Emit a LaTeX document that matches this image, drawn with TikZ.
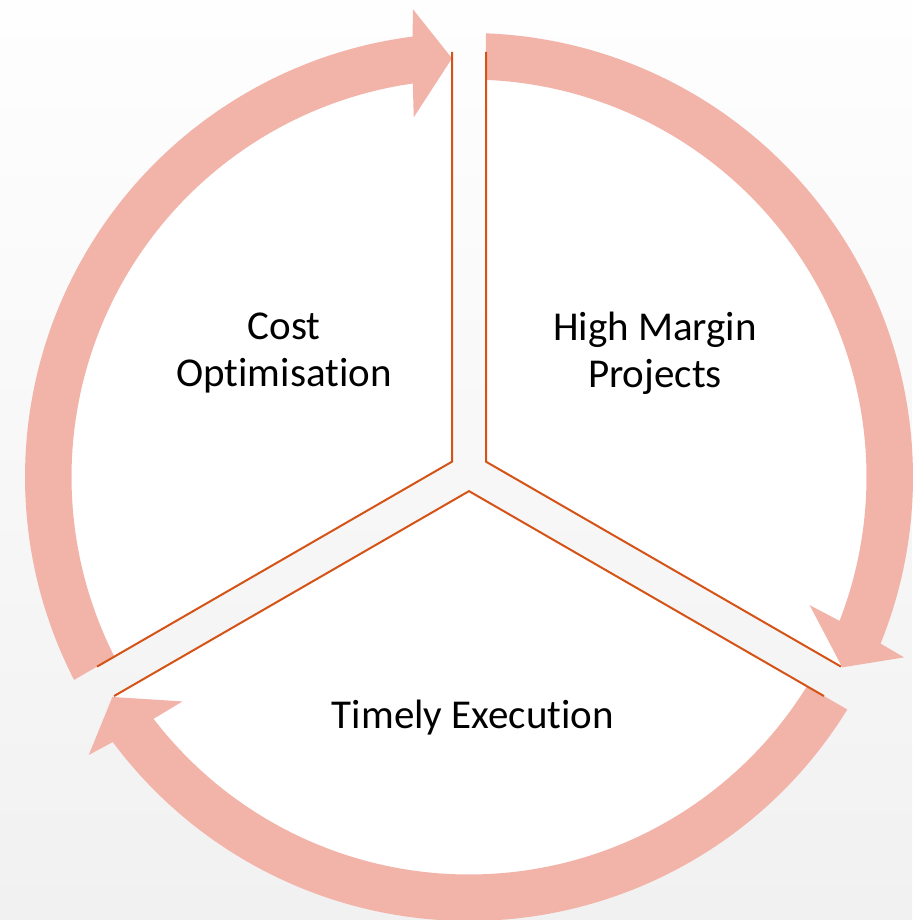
\documentclass[tikz,border=0pt]{standalone}
\usepackage{fontspec}
\setmainfont{Carlito}[Ligatures=NoCommon]
\usetikzlibrary{calc}
\definecolor{ringpink}{RGB}{242,179,169}
\definecolor{edgeorange}{RGB}{213,83,22}
\definecolor{bgtop}{RGB}{254,254,254}
\definecolor{bgbot}{RGB}{241,241,241}
% #1 tail angle (outer), #2 tail angle (inner), #3 tip angle
\newcommand\drawcyclearrow[3]{%
  \fill[cyclearrow] ($(O)+(#1:444)$) arc[start angle=#1, end angle=#3+4.98, radius=444]
    -- ($(O)+(#3+4.5:471)$) -- ($(O)+(#3:419)$) -- ($(O)+(#3+6.4:364)$)
    -- ($(O)+(#3+5.8:397.5)$) arc[start angle=#3+5.8, end angle=#2, radius=397.5] -- cycle;}
\begin{document}
\begin{tikzpicture}[x=1pt,y=1pt,
  sectorfill/.style={fill=white},
  sectoredge/.style={draw=edgeorange, line width=2pt, line join=miter},
  cyclearrow/.style={fill=ringpink},
  celltext/.style={font=\fontsize{41}{47}\selectfont, align=center, inner sep=0pt, text=black}]
\useasboundingbox (0,0) rectangle (912,920);
\shade[top color=bgtop, bottom color=bgbot] (0,0) rectangle (912,920);
\coordinate (O) at (469,443);
\coordinate (S) at (469,448.5);
% corners of the three segments
\coordinate (cl) at ($(S)+(150:19.63)$);
\coordinate (cr) at ($(S)+(30:19.63)$);
\coordinate (cb) at ($(S)+(270:19.63)$);
% segments
\fill[sectorfill] (cl) -- ($(S)+(92.32:420)$) arc[start angle=92.32, end angle=207.68, radius=420] -- cycle;
\fill[sectorfill] (cr) -- ($(S)+(-27.68:420)$) arc[start angle=-27.68, end angle=87.68, radius=420] -- cycle;
\fill[sectorfill] (cb) -- ($(S)+(212.32:420)$) arc[start angle=212.32, end angle=327.68, radius=420] -- cycle;
% cycle arrows
\drawcyclearrow{207.19}{206.86}{92.33}
\drawcyclearrow{87.81}{87.55}{-27.02}
\drawcyclearrow{-31.58}{-31.76}{-148.33}
% segment edges
\draw[sectoredge] ($(S)+(207.68:420)$) -- (cl) -- ($(S)+(92.32:420)$);
\draw[sectoredge] ($(S)+(87.68:420)$) -- (cr) -- ($(S)+(-27.68:420)$);
\draw[sectoredge] ($(S)+(327.68:420)$) -- (cb) -- ($(S)+(212.32:420)$);
% texts
\node[celltext] (cost) at (284,567) {Cost\\Optimisation};
\node[celltext] (high) at (655,567) {High Margin\\Projects};
\node[celltext, anchor=base] (timely) at (473,191) {Timely Execution};
\end{tikzpicture}
\end{document}
